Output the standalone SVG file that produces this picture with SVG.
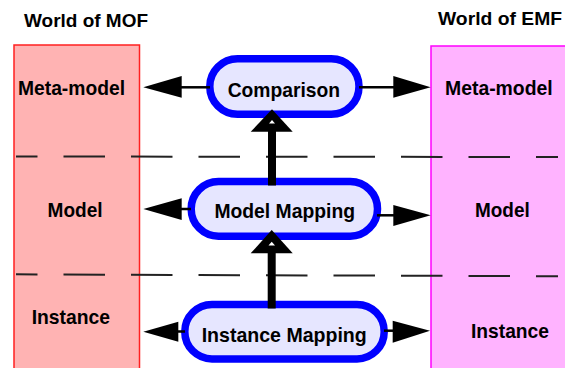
<svg xmlns="http://www.w3.org/2000/svg" width="565" height="368" viewBox="0 0 565 368">
  <style>
    text { font-family: "Liberation Sans", Arial, sans-serif; font-weight: bold; fill: #000; }
    .title { font-size: 18.5px; }
    .lbl { font-size: 21px; text-anchor: start; }
    .mof { fill: #ffb3b3; stroke: #ff2020; stroke-width: 1.5; }
    .emf { fill: #ffb3ff; stroke: #ff00ff; stroke-width: 1.5; }
    .level { stroke: #222; stroke-width: 2; stroke-dasharray: 41.5 26; stroke-dashoffset: 20; fill: none; }
    .proc { fill: #e6e6ff; stroke: #0000ff; stroke-width: 7.5; }
    .link { stroke: #000; stroke-width: 2.5; fill: none; }
    .up { stroke: #000; stroke-width: 8; fill: none; }
    .head { fill: #000; }
    .notch { fill: #fff; }
  </style>

  <!-- World of MOF column -->
  <g id="mof">
    <text class="title" x="24" y="26.7" textLength="124" lengthAdjust="spacingAndGlyphs">World of MOF</text>
    <rect class="mof" x="14" y="45" width="125.5" height="330"/>
    <text class="lbl" x="18" y="95" textLength="107" lengthAdjust="spacingAndGlyphs">Meta-model</text>
    <text class="lbl" x="47.6" y="217.3" textLength="55" lengthAdjust="spacingAndGlyphs">Model</text>
    <text class="lbl" x="31.7" y="324.3" textLength="78.3" lengthAdjust="spacingAndGlyphs">Instance</text>
  </g>

  <!-- World of EMF column -->
  <g id="emf">
    <text class="title" x="438" y="25.3" textLength="124" lengthAdjust="spacingAndGlyphs">World of EMF</text>
    <rect class="emf" x="431" y="46" width="150" height="330"/>
    <text class="lbl" x="445" y="95" textLength="107.7" lengthAdjust="spacingAndGlyphs">Meta-model</text>
    <text class="lbl" x="475" y="217" textLength="54.7" lengthAdjust="spacingAndGlyphs">Model</text>
    <text class="lbl" x="471" y="338.3" textLength="78" lengthAdjust="spacingAndGlyphs">Instance</text>
  </g>

  <!-- level separators -->
  <g id="levels">
    <line class="level" x1="16" y1="156.5" x2="558" y2="157"/>
    <line class="level" x1="16" y1="274.3" x2="558" y2="276.3"/>
  </g>

  <!-- mapping processes -->
  <g id="comparison">
    <rect class="proc" x="209.8" y="58.8" width="149.2" height="55.5" rx="27.7"/>
    <text class="lbl" x="227.7" y="96.7" textLength="112.3" lengthAdjust="spacingAndGlyphs">Comparison</text>
  </g>
  <g id="model-mapping">
    <rect class="proc" x="191.2" y="181.5" width="186.3" height="54.7" rx="27.3"/>
    <text class="lbl" x="214.4" y="218.3" textLength="140.6" lengthAdjust="spacingAndGlyphs">Model Mapping</text>
  </g>
  <g id="instance-mapping">
    <rect class="proc" x="184.8" y="304.5" width="199.4" height="54.4" rx="27.2"/>
    <text class="lbl" x="201.7" y="341.7" textLength="165" lengthAdjust="spacingAndGlyphs">Instance Mapping</text>
  </g>

  <!-- connectors -->
  <g id="connectors">
    <!-- Comparison to both meta-models -->
    <line class="link" x1="181" y1="87.3" x2="210" y2="87.3"/>
    <polygon class="head" points="143.3,87.3 181.7,76 181.7,97.7"/>
    <line class="link" x1="359" y1="87.3" x2="394" y2="87.3"/>
    <polygon class="head" points="430.7,87.3 393.3,76 393.3,97.7"/>

    <!-- Model Mapping to both models -->
    <line class="link" x1="181" y1="209" x2="191" y2="209"/>
    <polygon class="head" points="143.4,209 181.7,198.3 181.7,220"/>
    <line class="link" x1="377" y1="215.3" x2="394" y2="215.3"/>
    <polygon class="head" points="430.7,215.3 393.3,205 393.3,226"/>

    <!-- Instance Mapping to both instances -->
    <line class="link" x1="178" y1="331.5" x2="185" y2="331.5"/>
    <polygon class="head" points="143.3,331.7 178.3,321.7 178.3,341.7"/>
    <line class="link" x1="384" y1="330.7" x2="393" y2="330.7"/>
    <polygon class="head" points="430,330.7 392.7,320.7 392.7,342.7"/>

    <!-- Model Mapping feeds Comparison -->
    <line class="up" x1="272" y1="131" x2="272" y2="185.5"/>
    <polygon class="head" points="272,109.3 250.7,131.7 292.7,131.7"/>
    <polygon class="notch" points="272,120 269,123.5 275,123.5"/>

    <!-- Instance Mapping feeds Model Mapping -->
    <line class="up" x1="271.7" y1="253" x2="271.7" y2="308.5"/>
    <polygon class="head" points="271.7,230 250.7,253.3 292.7,253.3"/>
    <polygon class="notch" points="271.7,241.7 268.5,245.5 275,245.5"/>
  </g>
</svg>
